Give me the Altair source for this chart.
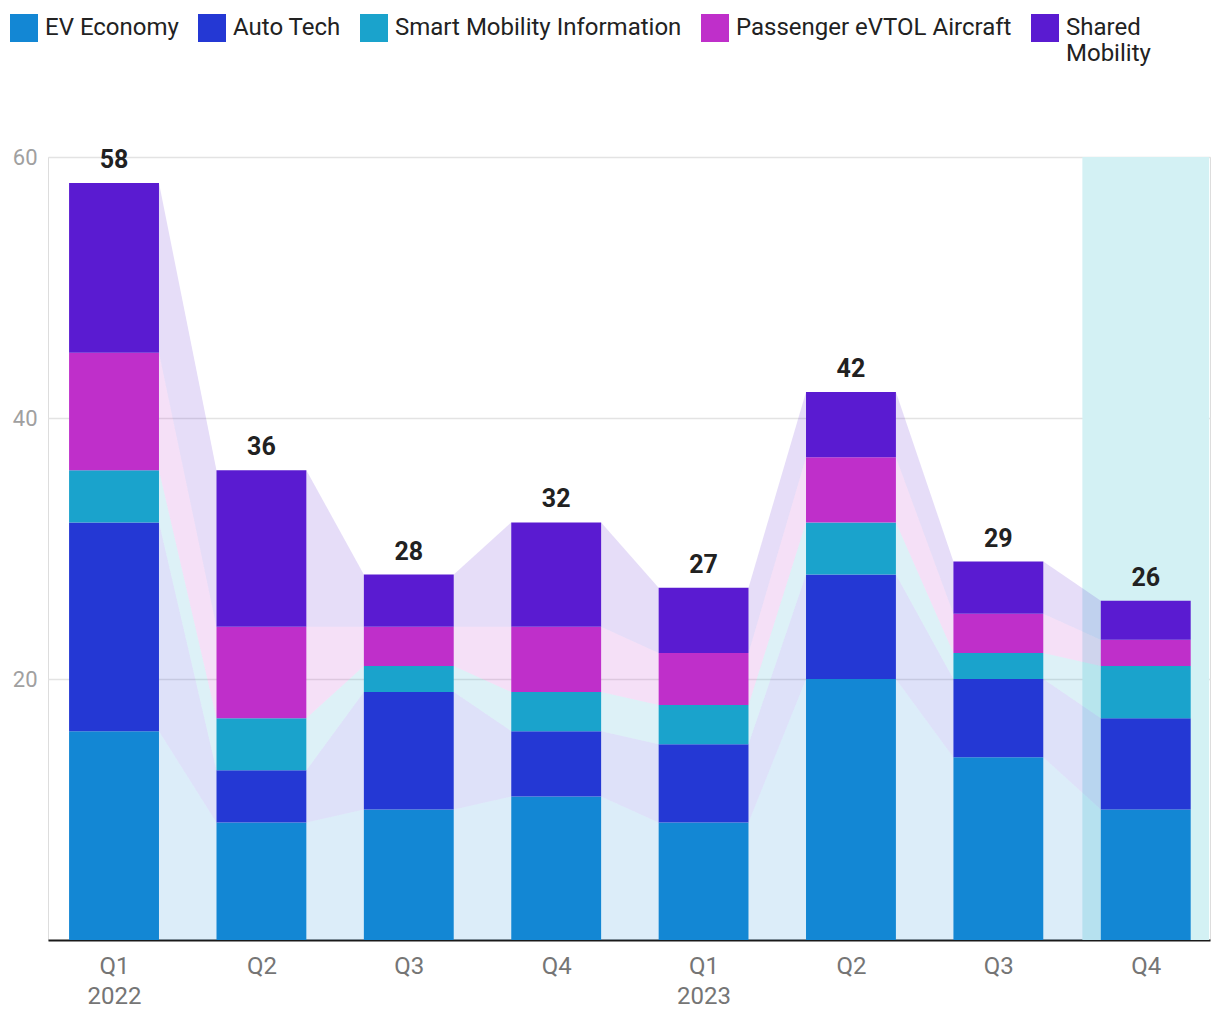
import json
import altair as alt
import pandas as pd

quarters = ["Q1", "Q2", "Q3", "Q4", "Q1", "Q2", "Q3", "Q4"]
years = ["2022", "", "", "", "2023", "", "", ""]
series = ["EV Economy", "Auto Tech", "Smart Mobility Information",
          "Passenger eVTOL Aircraft", "Shared Mobility"]
colors = ["#1387d4", "#2438d4", "#1aa3cc", "#bf2fca", "#5a1bd1"]

ev_economy = [16, 9, 10, 11, 9, 20, 14, 10]
auto_tech = [16, 4, 9, 5, 6, 8, 6, 7]
smart_mobility = [4, 4, 2, 3, 3, 4, 2, 4]
passenger_evtol = [9, 7, 3, 5, 4, 5, 3, 2]
shared_mobility = [13, 12, 4, 8, 5, 5, 4, 3]

highlight_index = 7
y_max = 60
bar_half = 0.305
highlight_half = 0.43

values = [ev_economy, auto_tech, smart_mobility, passenger_evtol, shared_mobility]
n = len(quarters)

# stacked bottoms/tops
lo = [[0] * n for _ in series]
hi = [[0] * n for _ in series]
for i in range(n):
    acc = 0
    for s in range(len(series)):
        lo[s][i] = acc
        acc += values[s][i]
        hi[s][i] = acc

bar_rows, area_rows, total_rows = [], [], []
for i in range(n):
    total_rows.append({"x": i, "total": hi[-1][i]})
    for s, name in enumerate(series):
        bar_rows.append({"series": name, "x0": i - bar_half, "x1": i + bar_half,
                         "y0": lo[s][i], "y1": hi[s][i]})
for i in range(n - 1):
    for s, name in enumerate(series):
        seg = f"{name}-{i}"
        area_rows.append({"series": name, "seg": seg, "x": i + bar_half,
                          "y0": lo[s][i], "y1": hi[s][i]})
        area_rows.append({"series": name, "seg": seg, "x": i + 1 - bar_half,
                          "y0": lo[s][i + 1], "y1": hi[s][i + 1]})

bars_df = pd.DataFrame(bar_rows)
areas_df = pd.DataFrame(area_rows)
totals_df = pd.DataFrame(total_rows)
hl_df = pd.DataFrame([{"x0": highlight_index - highlight_half,
                       "x1": highlight_index + highlight_half,
                       "y0": 0, "y1": y_max}])

label_list = [[q, y] if y else q for q, y in zip(quarters, years)]
label_expr = json.dumps(label_list).replace('"', "'") + "[datum.value]"

xscale = alt.Scale(domain=[-0.448, 7.436], nice=False, zero=False)
yscale = alt.Scale(domain=[0, y_max], nice=False)
cscale = alt.Scale(domain=series, range=colors)

x_axis = alt.Axis(values=list(range(n)), labelExpr=label_expr, grid=False,
                  ticks=False, domainColor="#1a1a1a", domainWidth=2,
                  labelFont="Roboto", labelFontSize=24, labelColor="#757575",
                  labelPadding=14, labelLineHeight=30, labelFlush=False,
                  labelOverlap=False, title=None)
y_axis = alt.Axis(values=[20, 40, 60], grid=True, gridColor="#e3e3e3",
                  gridWidth=1.5, domain=False, ticks=False, labelFont="Roboto",
                  labelFontSize=22, labelColor="#a0a0a0", labelPadding=11,
                  title=None)

legend = alt.Legend(
    title=None, orient="none", legendX=-38, legendY=-143, direction="horizontal",
    columns=5, symbolType="square", symbolSize=784,
    symbolStrokeWidth=0, symbolOpacity=1, labelFontSize=24,
    labelColor="#222222", labelFont="Roboto", labelOffset=7, columnPadding=19,
    labelLimit=400, labelBaseline="middle",
    labelExpr="datum.label == 'Shared Mobility' ? ['Shared', 'Mobility'] : [datum.label, '']",
)

highlight = alt.Chart(hl_df).mark_rect(color="#d3f1f4").encode(
    x=alt.X("x0:Q", scale=xscale, axis=x_axis),
    x2="x1:Q",
    y=alt.Y("y0:Q", scale=yscale, axis=y_axis),
    y2="y1:Q",
)

areas = alt.Chart(areas_df).mark_area(opacity=0.15).encode(
    x=alt.X("x:Q", scale=xscale),
    y=alt.Y("y0:Q", scale=yscale, stack=None),
    y2="y1:Q",
    color=alt.Color("series:N", scale=cscale, legend=legend),
    detail="seg:N",
)

bars = alt.Chart(bars_df).mark_rect().encode(
    x=alt.X("x0:Q", scale=xscale),
    x2="x1:Q",
    y=alt.Y("y0:Q", scale=yscale),
    y2="y1:Q",
    color=alt.Color("series:N", scale=cscale, legend=legend),
)

totals = alt.Chart(totals_df).mark_text(
    dy=-15, baseline="alphabetic", fontSize=25, fontWeight="bold",
    color="#212121", font="Roboto",
).encode(
    x=alt.X("x:Q", scale=xscale),
    y=alt.Y("total:Q", scale=yscale),
    text="total:Q",
)

chart = alt.layer(highlight, areas, bars, totals).properties(
    width=1162, height=783,
    padding={"left": 2, "top": 6, "right": 2, "bottom": 2},
).configure_view(stroke=None).configure(font="Roboto")

chart.save("out.html", embed_options={"renderer": "svg", "actions": False})
